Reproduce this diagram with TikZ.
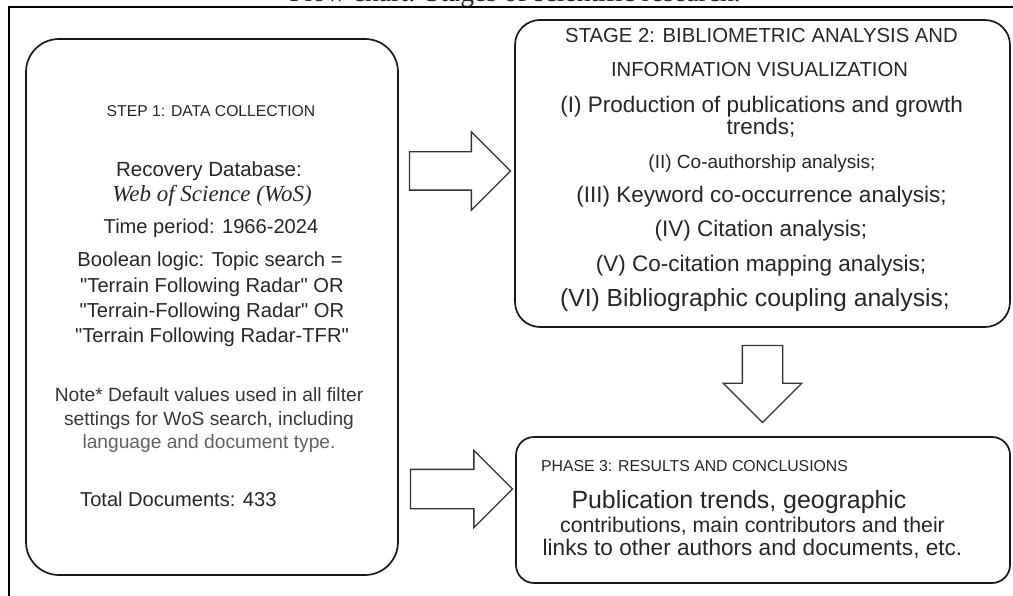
\documentclass[tikz,border=0pt]{standalone}
\usepackage{fontspec}
\setmainfont{Liberation Sans}
\newfontfamily\plainsans{Liberation Sans}
\newfontfamily\serifface{Liberation Serif}
\usetikzlibrary{shapes.arrows,calc}

\tikzset{
  stagebox/.style={draw=black!90, line width=1.7pt, inner sep=0pt},
  line/.style={anchor=base, inner sep=0pt, text=black!85},
  bigarrow/.style={single arrow, draw=black!80, line width=1.3pt, fill=white,
    inner xsep=0pt, inner ysep=18.5pt, single arrow head extend=20pt},
}
\newcommand{\fs}[1]{\fontsize{#1}{#1}\selectfont}

\begin{document}
\begin{tikzpicture}[x=1pt,y=-1pt]
\useasboundingbox (0,0) rectangle (1013,596);
% title, cut by the page edge
\node[line, font=\serifface\fs{27.6}] (title) at (515,2) {Flow chart: Stages of scientific research.};
\draw[line width=2.6pt] (9,600) -- (9,7) -- (1020,7);

% the three boxes
\node[stagebox, rounded corners=33pt, minimum width=372pt, minimum height=536pt] (stepone) at (212,307) {};
\node[stagebox, rounded corners=25pt, minimum width=495pt, minimum height=307pt] (stagetwo) at (762.5,173.5) {};
\node[stagebox, rounded corners=18pt, minimum width=494pt, minimum height=146pt] (phasethree) at (763,510) {};

% step 1
\node[line, font=\fs{15.7}] (s1-head) at (211,117) {STEP 1: DATA COLLECTION};
\foreach \txt/\sz/\x/\y [count=\i] in {
    {Recovery Database:}/20.5/209/177,
    {Time period: 1966-2024}/20.1/211/234,
    {Boolean logic: Topic search =}/20.2/210/267,
    {"Terrain Following Radar" OR}/20.2/212/293,
    {"Terrain-Following Radar" OR}/20.2/212/318,
    {"Terrain Following Radar-TFR"}/20.2/212/342}
  \node[line, font=\plainsans\fs{\sz}] (s1-\i) at (\x,\y) {\txt};
\node[line, font=\serifface\itshape\fs{23}] (s1-wos) at (212,202) {Web of Science (WoS)};
\node[line, font=\fs{19.2}, text=black!80] (note-1) at (209,401) {Note* Default values used in all filter};
\node[line, font=\fs{19.2}, text=black!78] (note-2) at (209,425) {settings for WoS search, including};
\node[line, font=\fs{19.2}, text=black!62] (note-3) at (209,448) {language and document type.};
\node[line, anchor=base west, font=\fs{20.1}] (s1-total) at (80,506) {Total Documents: 433};

% stage 2
\foreach \txt/\sz/\x/\y [count=\i] in {
    {STAGE 2: BIBLIOMETRIC ANALYSIS AND}/20.3/761.5/43,
    {INFORMATION VISUALIZATION}/20.3/759.5/77,
    {(I) Production of publications and growth}/22.5/761.7/113,
    {trends;}/22.5/761/135,
    {(II) Co-authorship analysis;}/19/762/169,
    {(III) Keyword co-occurrence analysis;}/22.5/761.5/203,
    {(IV) Citation analysis;}/22.5/761/237,
    {(V) Co-citation mapping analysis;}/22.5/761/272,
    {(VI) Bibliographic coupling analysis;}/24.7/755/307}
  \node[line, font=\fs{\sz}] (s2-\i) at (\x,\y) {\txt};

% phase 3
\node[line, anchor=base west, font=\fs{15.8}] (s3-head) at (541,471) {PHASE 3: RESULTS AND CONCLUSIONS};
\node[line, font=\fs{24.9}] (s3-1) at (739,508) {Publication trends, geographic};
\node[line, font=\fs{21.3}] (s3-2) at (752.5,532) {contributions, main contributors and their};
\node[line, font=\fs{22.6}] (s3-3) at (752.5,555) {links to other authors and documents, etc.};

% block arrows
\node[bigarrow, minimum height=101pt, anchor=tail] (arr-a) at ([xshift=10pt,yshift=2.5pt]stepone.east |- stagetwo.west) {};
\node[bigarrow, minimum height=102pt, inner ysep=19pt, single arrow head extend=19pt, anchor=tail] (arr-b) at ([xshift=11pt,yshift=21pt]stepone.east |- phasethree.west) {};
\node[bigarrow, minimum height=77pt, inner xsep=19.5pt, inner ysep=19.5pt, single arrow head extend=19pt, shape border rotate=270, anchor=tail] (arr-c) at ([yshift=-17pt]stagetwo.south) {};
\end{tikzpicture}
\end{document}
